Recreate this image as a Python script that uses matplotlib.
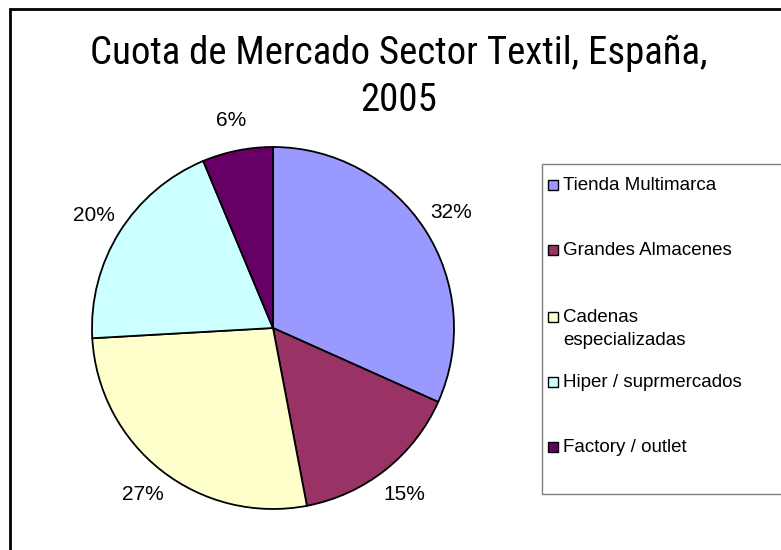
"""Cuota de mercado del sector textil en España, 2005 (pie chart)."""

import matplotlib.pyplot as plt
from matplotlib import font_manager
from matplotlib.patches import Rectangle

# data
sectors = [
    "Tienda Multimarca",
    "Grandes Almacenes",
    "Cadenas\nespecializadas",
    "Hiper / suprmercados",
    "Factory / outlet",
]
shares = [31.7, 15.3, 27.1, 19.6, 6.3]
colors = ["#9999FF", "#993366", "#FFFFCC", "#CCFFFF", "#660066"]
title_lines = ["Cuota de Mercado Sector Textil, España,", "2005"]

W, H = 781, 550


def fx(px):
    return px / W


def fy(py):
    # pixel rows counted from the top
    return 1 - py / H


def pick_title_font():
    names = {f.name for f in font_manager.fontManager.ttflist}
    for name in ["Liberation Sans Narrow", "DejaVu Sans Condensed",
                 "Roboto Condensed", "Open Sans Condensed", "Noto Sans"]:
        if name in names:
            return name
    return "DejaVu Sans"


def main():
    fig = plt.figure(figsize=(W / 100, H / 100), dpi=100)
    fig.patch.set_facecolor("white")

    # outer chart frame (only left and top edges fall inside the image)
    fig.patches.append(
        Rectangle((fx(10), -0.2), 1.5, fy(9) + 0.2, transform=fig.transFigure,
                  fill=False, edgecolor="black", linewidth=2.0, zorder=0)
    )

    # pie: center (273, 328), radius ~181 px
    r = 181
    ax = fig.add_axes([fx(273 - r), fy(328 + r), fx(2 * r), 2 * r / H])
    ax.pie(
        shares,
        colors=colors,
        startangle=90,
        counterclock=False,
        autopct="%.0f%%",
        pctdistance=1.17,
        wedgeprops={"edgecolor": "black", "linewidth": 1.3},
        textprops={"fontsize": 15, "family": ["Liberation Sans", "DejaVu Sans"]},
    )
    ax.set_xlim(-1, 1)
    ax.set_ylim(-1, 1)
    ax.set_aspect("equal")
    ax.axis("off")

    # title: size chosen so the first line is ~614 px wide
    tfont = pick_title_font()
    renderer = fig.canvas.get_renderer()
    probe = fig.text(0, 0, title_lines[0], fontsize=28, family=tfont)
    w = probe.get_window_extent(renderer).width
    probe.remove()
    size = 28 * 614 / w if w > 630 else 28
    for line, base in zip(title_lines, [64, 111]):
        fig.text(fx(399), fy(base), line, ha="center", va="baseline",
                 fontsize=size, family=tfont)

    # legend box, drawn by hand so the wrapped entry sits like the original
    fig.patches.append(
        Rectangle((fx(542), fy(494)), 1.0, fy(164) - fy(494),
                  transform=fig.transFigure, facecolor="white",
                  edgecolor="#808080", linewidth=1.0, zorder=1)
    )
    rows = [185, 250, 317, 382, 447]
    for label, c, y in zip(sectors, colors, rows):
        fig.patches.append(
            Rectangle((fx(548), fy(y + 5)), fx(10), 10 / H,
                      transform=fig.transFigure, facecolor=c,
                      edgecolor="black", linewidth=1.0, zorder=2)
        )
        fig.text(fx(563), fy(y - 8), label, ha="left", va="top",
                 fontsize=13.5, linespacing=1.45,
                 family=["Liberation Sans", "DejaVu Sans"], zorder=3)

    fig.savefig("out.png", dpi=100)


if __name__ == "__main__":
    main()
